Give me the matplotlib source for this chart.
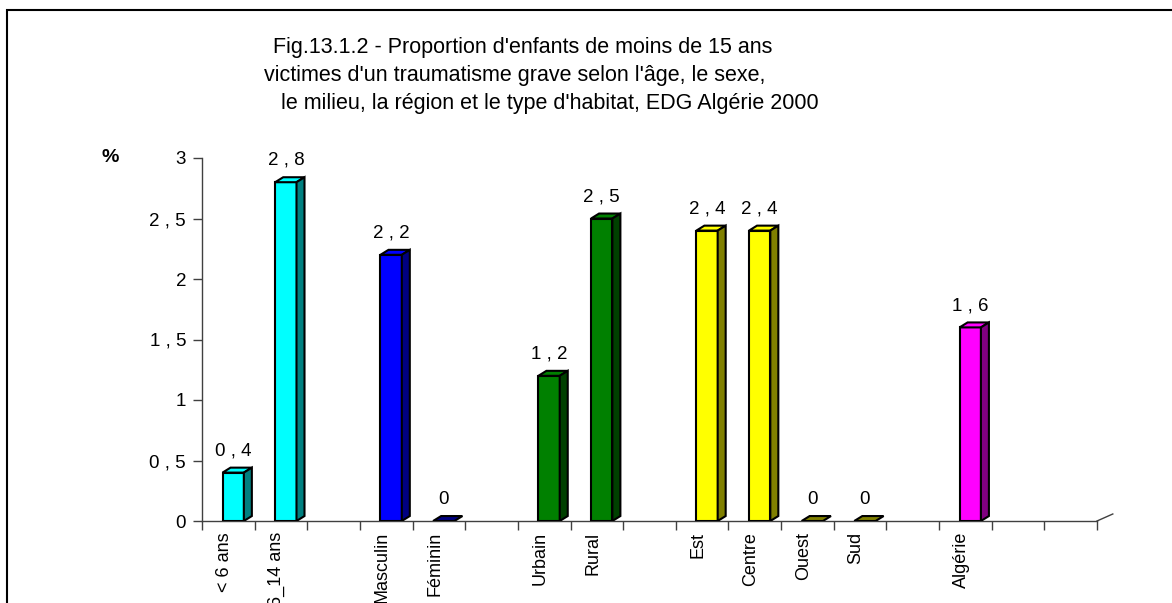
import numpy as np
import matplotlib.pyplot as plt
import matplotlib.patches as mpatches
from matplotlib.ticker import FixedLocator, FixedFormatter

plt.rcParams['font.family'] = ['Liberation Sans', 'DejaVu Sans']

# Categories (blank entries are gaps between groups)
categories = ['< 6 ans', '6_14 ans', '', 'Masculin', 'Féminin', '', 'Urbain', 'Rural', '',
              'Est', 'Centre', 'Ouest', 'Sud', '', 'Algérie', '', '']
groups = ['age', 'age', None, 'sexe', 'sexe', None, 'milieu', 'milieu', None,
          'region', 'region', 'region', 'region', None, 'total', None, None]
values = [0.4, 2.8, None, 2.2, 0.0, None, 1.2, 2.5, None,
          2.4, 2.4, 0.0, 0.0, None, 1.6, None, None]
yticks = [0, 0.5, 1, 1.5, 2, 2.5, 3]

title_lines = ["Fig.13.1.2 - Proportion d'enfants de moins de 15 ans",
               "victimes d'un traumatisme grave selon l'âge, le sexe,",
               "le milieu, la région et le type d'habitat, EDG Algérie 2000"]

# front / side colours per group
front_colors = {'age': '#00FFFF', 'sexe': '#0000FF', 'milieu': '#008000',
                'region': '#FFFF00', 'total': '#FF00FF'}
side_colors = {'age': '#008080', 'sexe': '#000080', 'milieu': '#004000',
               'region': '#808000', 'total': '#800080'}


def fmt(v):
    return f"{v:g}".replace('.', ' , ')


W, H = 1172, 603
fig = plt.figure(figsize=(W / 100, H / 100), dpi=100)
ax = fig.add_axes([202 / W, 1 - 521 / H, 895 / W, 363 / H])

n = len(categories)
ax.set_xlim(0, n)
ax.set_ylim(0, 3)

# bar geometry in data units
offset, width = 0.39, 0.405
dx, dy = 0.152, 0.041
lw = 1.5

idx = [i for i, v in enumerate(values) if v is not None]
lefts = np.array(idx) + offset
heights = np.array([values[i] for i in idx])
fronts = [front_colors[groups[i]] for i in idx]
sides = [side_colors[groups[i]] for i in idx]

ax.bar(lefts, heights, width=width, align='edge', color=fronts,
       edgecolor='black', linewidth=lw, zorder=3)

for l, h, fc, sc in zip(lefts, heights, fronts, sides):
    top = mpatches.Polygon([(l, h), (l + width, h), (l + width + dx, h + dy), (l + dx, h + dy)],
                           closed=True, facecolor=fc if h > 0 else sc,
                           edgecolor='black', linewidth=lw, zorder=4)
    ax.add_patch(top)
    if h > 0:
        side = mpatches.Polygon([(l + width, 0), (l + width + dx, dy),
                                 (l + width + dx, h + dy), (l + width, h)],
                                closed=True, facecolor=sc, edgecolor='black',
                                linewidth=lw, zorder=4)
        ax.add_patch(side)
    ax.annotate(fmt(h), (l + width / 2, h + dy), xytext=(0, 6),
                textcoords='offset points', ha='center', va='bottom', fontsize=13.5)

# axes styling
for s in ['top', 'right']:
    ax.spines[s].set_visible(False)
for s in ['left', 'bottom']:
    ax.spines[s].set_color('#404040')
    ax.spines[s].set_linewidth(1.0)

# depth edge at the end of the category axis
ax.plot([n, n + 0.30], [0, 0.058], color='#404040', linewidth=1.0, clip_on=False)

ax.yaxis.set_major_locator(FixedLocator(yticks))
ax.yaxis.set_major_formatter(FixedFormatter([fmt(t) for t in yticks]))
ax.tick_params(axis='y', direction='out', length=6.5, width=1, color='#404040',
               labelsize=13.5, pad=5)

ax.xaxis.set_major_locator(FixedLocator(np.arange(n + 1)))
ax.xaxis.set_major_formatter(FixedFormatter([''] * (n + 1)))
ax.tick_params(axis='x', which='major', direction='out', length=6.5, width=1, color='#404040')
lab_idx = [i for i, c in enumerate(categories) if c]
ax.xaxis.set_minor_locator(FixedLocator([i + 0.42 for i in lab_idx]))
ax.xaxis.set_minor_formatter(FixedFormatter([categories[i] for i in lab_idx]))
ax.tick_params(axis='x', which='minor', length=0, labelsize=13, labelrotation=90, pad=8)

fig.text(110 / W, 1 - 157 / H, '%', ha='center', va='center', fontsize=14, fontweight='bold')

# title, one line per row
for txt, cx, cy in zip(title_lines, [523, 515, 550], [47, 76, 104]):
    fig.text(cx / W, 1 - cy / H, txt, ha='center', va='center', fontsize=15.5)

# frame around the chart
fig.patches.append(mpatches.Rectangle((7 / W, -0.2), 1.2, 1 - 10 / H + 0.2,
                                      transform=fig.transFigure, fill=False,
                                      edgecolor='black', linewidth=1.5))

fig.savefig('out.png', dpi=100)
